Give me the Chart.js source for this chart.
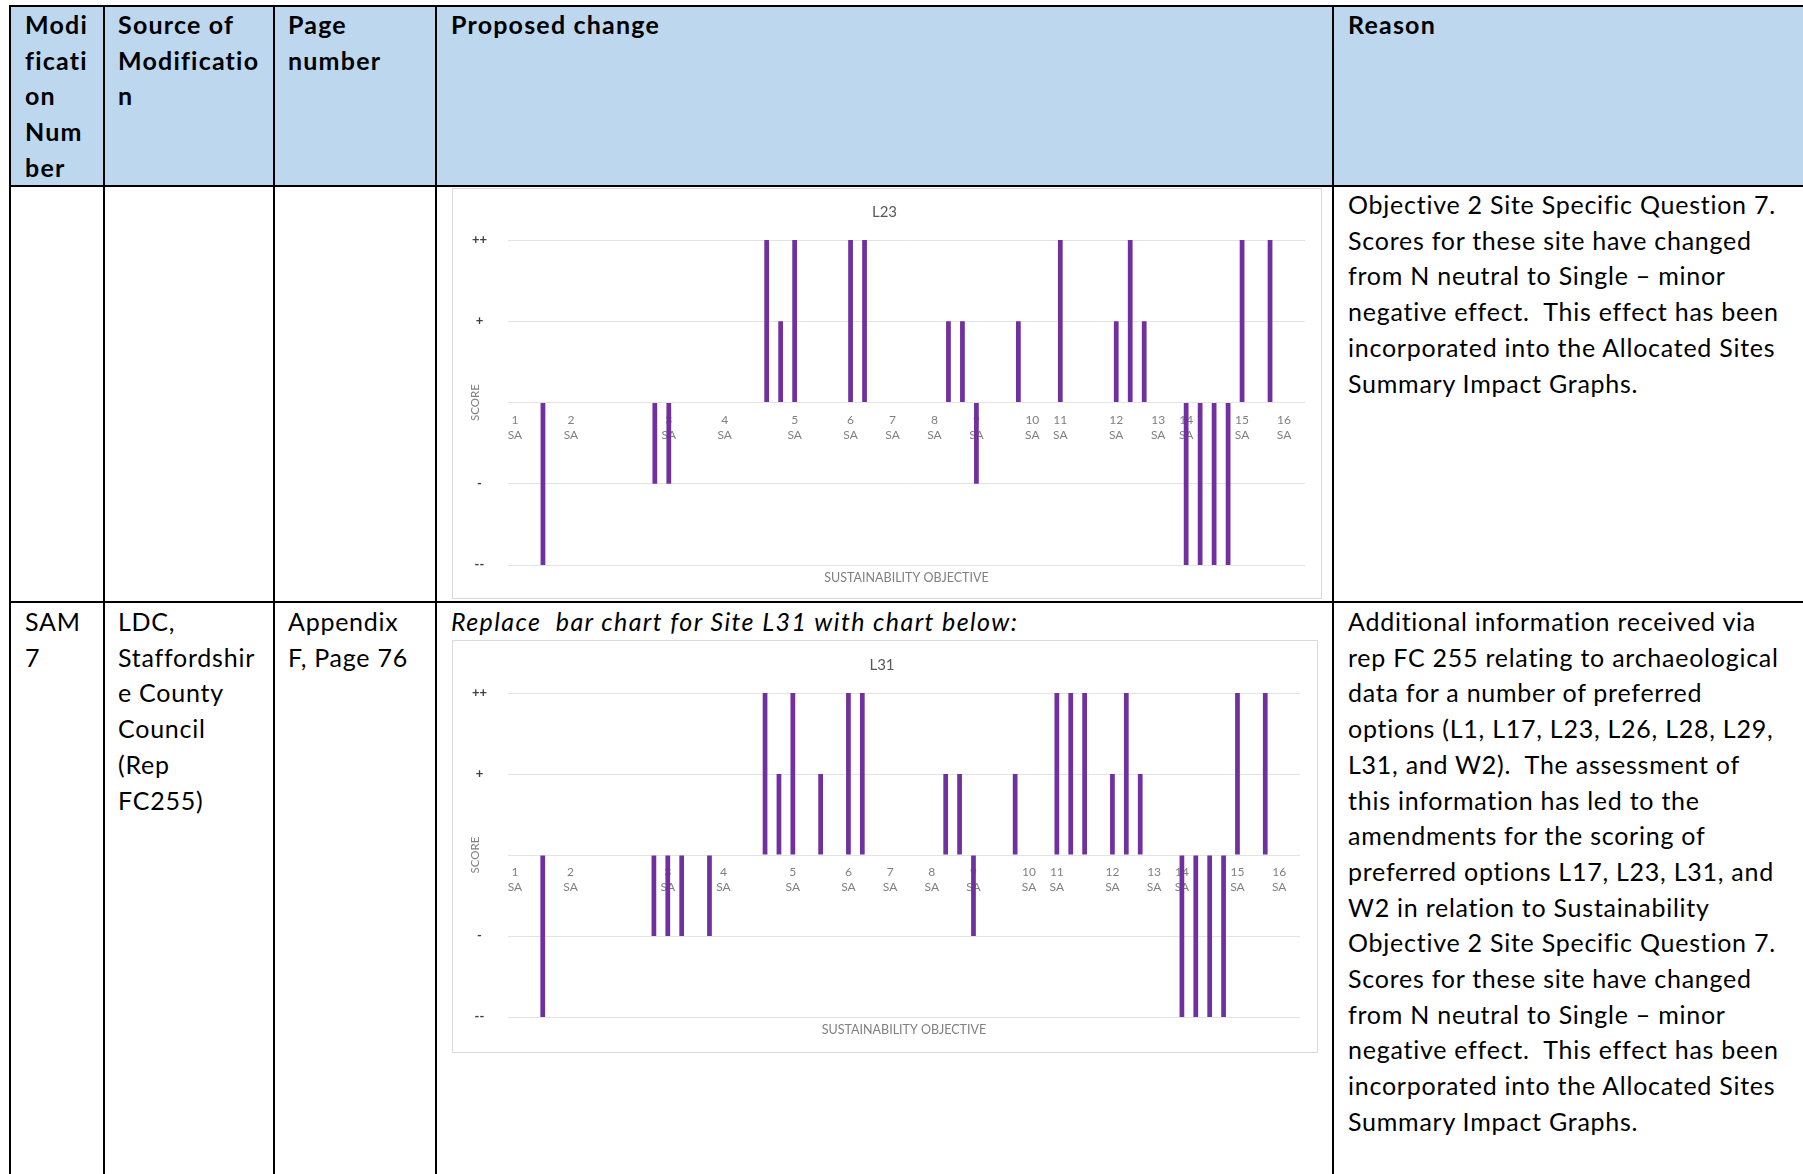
<!DOCTYPE html>
<html>
<head>
<meta charset="utf-8">
<script src="https://cdn.jsdelivr.net/npm/chart.js@4.4.1/dist/chart.umd.min.js"></script>
<style>
  html, body { margin: 0; padding: 0; background: #fff; }
  body { width: 1803px; height: 1174px; position: relative; overflow: hidden;
         font-family: Lato, "Noto Sans", sans-serif; font-size: 25px; line-height: 35.7px; color: #000; }
  .hdr { position: absolute; left: 11px; top: 7px; width: 1792px; height: 178px; background: #bdd7ee; }
  .ln { position: absolute; background: #000; }
  .txt { position: absolute; white-space: pre; letter-spacing: 0.75px; }
  .b { font-weight: bold; letter-spacing: 1.2px; }
  .i { font-style: italic; letter-spacing: 1.4px; }
  .box { position: absolute; border: 1px solid #d9d9d9; background: #fff; }
  .box canvas { display: block; }
</style>
</head>
<body>
<div class="hdr"></div>

<!-- table rules -->
<div class="ln" style="left:9px;top:5px;width:1794px;height:2px"></div>
<div class="ln" style="left:9px;top:185px;width:1794px;height:2px"></div>
<div class="ln" style="left:9px;top:601px;width:1794px;height:2px"></div>
<div class="ln" style="left:9px;top:5px;width:2px;height:1169px"></div>
<div class="ln" style="left:103px;top:5px;width:2px;height:1169px"></div>
<div class="ln" style="left:273px;top:5px;width:2px;height:1169px"></div>
<div class="ln" style="left:435px;top:5px;width:2px;height:1169px"></div>
<div class="ln" style="left:1332px;top:5px;width:2px;height:1169px"></div>

<!-- header -->
<div class="txt b" style="left:25px;top:7px">Modi
ficati
on
Num
ber</div>
<div class="txt b" style="left:118px;top:7px">Source of
Modificatio
n</div>
<div class="txt b" style="left:288px;top:7px">Page
number</div>
<div class="txt b" style="left:451px;top:7px">Proposed change</div>
<div class="txt b" style="left:1348px;top:7px">Reason</div>

<!-- row 1 -->
<div class="box" style="left:452px;top:188px;width:868px;height:409px"><canvas id="chartL23" width="868" height="409"></canvas></div>
<div class="txt" style="left:1348px;top:187px">Objective 2 Site Specific Question 7.
Scores for these site have changed
from N neutral to Single – minor
negative effect.  This effect has been
incorporated into the Allocated Sites
Summary Impact Graphs.</div>

<!-- row 2 -->
<div class="txt" style="left:25px;top:604px">SAM
7</div>
<div class="txt" style="left:118px;top:604px">LDC,
Staffordshir
e County
Council
(Rep
FC255)</div>
<div class="txt" style="left:288px;top:604px">Appendix
F, Page 76</div>
<div class="txt i" style="left:451px;top:604px">Replace  bar chart for Site L31 with chart below:</div>
<div class="box" style="left:452px;top:640px;width:864px;height:411px"><canvas id="chartL31" width="864" height="411"></canvas></div>
<div class="txt" style="left:1348px;top:604px">Additional information received via
rep FC 255 relating to archaeological
data for a number of preferred
options (L1, L17, L23, L26, L28, L29,
L31, and W2).  The assessment of
this information has led to the
amendments for the scoring of
preferred options L17, L23, L31, and
W2 in relation to Sustainability
Objective 2 Site Specific Question 7.
Scores for these site have changed
from N neutral to Single – minor
negative effect.  This effect has been
incorporated into the Allocated Sites
Summary Impact Graphs.</div>

<script>
// Sustainability objective labels and the category slot each one sits on
const objectiveNumbers = ['1', '2', '3', '4', '5', '6', '7', '8', '9', '10', '11', '12', '13', '14', '15', '16'];
const objectiveSlots = [0, 4, 11, 15, 20, 24, 27, 30, 33, 37, 39, 43, 46, 48, 52, 55];
const slotCount = 57;

// score scale
const scoreValues = [-2, -1, 0, 1, 2];
const scoreLabels = ['--', '-', '', '+', '++'];

// site scores, one per category slot (0 = neutral)
const scoresL23 = [
  0, 0, -2, 0, 0, 0, 0, 0, 0, 0,
  -1, -1, 0, 0, 0, 0, 0, 0, 2, 1,
  2, 0, 0, 0, 2, 2, 0, 0, 0, 0,
  0, 1, 1, -1, 0, 0, 1, 0, 0, 2,
  0, 0, 0, 1, 2, 1, 0, 0, -2, -2,
  -2, -2, 2, 0, 2, 0, 0
];
const scoresL31 = [
  0, 0, -2, 0, 0, 0, 0, 0, 0, 0,
  -1, -1, -1, 0, -1, 0, 0, 0, 2, 1,
  2, 0, 1, 0, 2, 2, 0, 0, 0, 0,
  0, 1, 1, -1, 0, 0, 1, 0, 0, 2,
  2, 2, 0, 1, 2, 1, 0, 0, -2, -2,
  -2, -2, 2, 0, 2, 0, 0
];

const barColor = '#7030a0';
const axisGrey = '#808080';
const textGrey = '#595959';

function slotLabels() {
  const labels = [];
  for (let i = 0; i < slotCount; i++) {
    const k = objectiveSlots.indexOf(i);
    labels.push(k >= 0 ? [objectiveNumbers[k], 'SA'] : '');
  }
  return labels;
}

function makeChart(canvasId, title, scores, padRight, titlePad, subPad) {
  const ctx = document.getElementById(canvasId).getContext('2d');
  return new Chart(ctx, {
    type: 'bar',
    data: {
      labels: slotLabels(),
      datasets: [{
        label: title,
        data: scores,
        backgroundColor: barColor,
        borderWidth: 0,
        barPercentage: 0.34,
        categoryPercentage: 1
      }]
    },
    options: {
      responsive: false,
      animation: false,
      layout: { padding: { left: 11, right: padRight, top: 0, bottom: 0 } },
      plugins: {
        legend: { display: false },
        tooltip: { enabled: false },
        title: {
          display: true,
          text: title,
          color: textGrey,
          font: { family: 'Lato', size: 15, weight: 'normal', lineHeight: 1.2 },
          padding: titlePad
        },
        subtitle: {
          display: true,
          position: 'bottom',
          fullSize: false,
          text: 'SUSTAINABILITY OBJECTIVE',
          color: axisGrey,
          font: { family: 'Lato', size: 12.5, lineHeight: 1.2 },
          padding: subPad
        }
      },
      scales: {
        x: {
          position: { y: 0 },
          grid: { display: false, drawTicks: false },
          border: { display: false },
          ticks: {
            autoSkip: false,
            maxRotation: 0,
            minRotation: 0,
            padding: 10,
            color: axisGrey,
            font: { family: 'Lato', size: 12, lineHeight: 1.25 }
          }
        },
        y: {
          min: -2,
          max: 2,
          afterFit: (s) => { s.width = 44; },
          grid: { color: '#e3e3e3', drawTicks: false },
          border: { display: false },
          ticks: {
            stepSize: 1,
            crossAlign: 'center',
            padding: 21,
            color: '#404040',
            font: { family: 'Lato', size: 13, weight: 'bold' },
            callback: (v) => scoreLabels[scoreValues.indexOf(v)]
          },
          title: {
            display: true,
            text: 'SCORE',
            color: axisGrey,
            font: { family: 'Lato', size: 11.5, lineHeight: 1.2 },
            padding: 4
          }
        }
      }
    }
  });
}

makeChart('chartL23', 'L23', scoresL23, 16, { top: 14, bottom: 19 }, { top: 5, bottom: 13 });
makeChart('chartL31', 'L31', scoresL31, 17, { top: 15, bottom: 19 }, { top: 5, bottom: 15 });
</script>
</body>
</html>
